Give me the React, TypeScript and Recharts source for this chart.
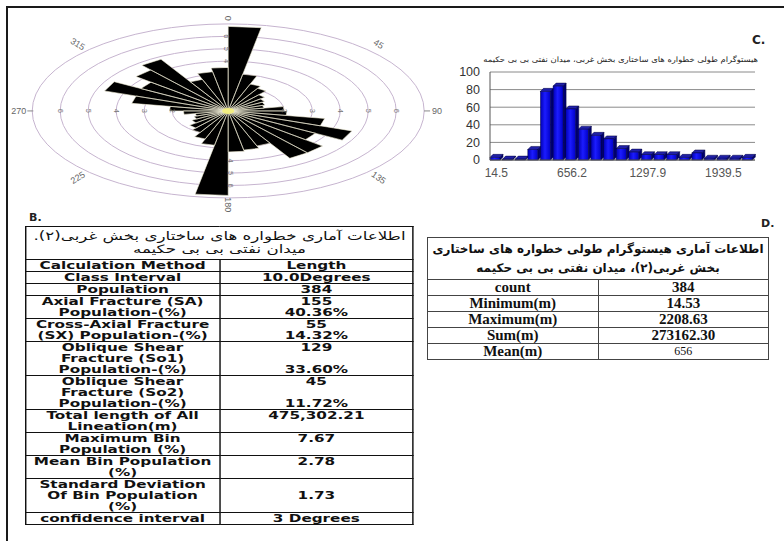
import React from 'react';
import {
  ComposedChart,
  Area,
  Scatter,
  XAxis,
  YAxis,
  BarChart,
  Bar,
  CartesianGrid,
} from 'recharts';

// rose diagram: 10 degree classes, clockwise from north (axial data)
const classStart = [
  0, 10, 20, 30, 40, 50, 60, 70, 80,
  90, 100, 110, 120, 130, 140, 150, 160, 170,
  180, 190, 200, 210, 220, 230, 240, 250, 260,
  270, 280, 290, 300, 310, 320, 330, 340, 350,
];
const classLength = [
  6.8, 3.0, 2.3, 2.1, 1.7, 1.5, 1.4, 1.3, 2.0,
  2.1, 3.5, 4.7, 3.6, 4.4, 4.4, 3.0, 3.2, 3.3,
  6.8, 2.8, 2.4, 2.0, 1.8, 1.5, 1.3, 1.2, 1.6,
  2.1, 3.5, 4.7, 3.6, 4.3, 4.8, 2.7, 3.2, 3.5,
];
const ringValues = [1, 2, 3, 4, 5, 6, 7];
const ringLabelsEW = [2, 3, 4, 5, 6];
const ringLabelsNS = [4, 5, 6];
const compassText = ['0', '45', '90', '135', '180', '225', '270', '315'];
const compassAngle = [0, 45, 90, 135, 180, 225, 270, 315];

// histogram of lineament length (m)
const lengthClass = [
  '14.5', '121.5', '228.4', '335.4', '442.3', '549.3', '656.2',
  '763.2', '870.1', '977.1', '1084.0', '1191.0', '1297.9', '1404.9',
  '1511.8', '1618.8', '1725.7', '1832.7', '1939.5', '2046.5', '2153.5',
];
const lengthCount = [3, 1, 1, 12, 78, 84, 58, 35, 28, 24, 13, 9, 6, 6, 6, 3, 8, 2, 2, 2, 3];
const countTicks = [0, 20, 40, 60, 80, 100];
const histTitle = 'هیستوگرام طولی خطواره های ساختاری بخش غربی، میدان نفتی بی بی حکیمه';

// table B
const tableBTitle = ['اطلاعات آماری خطواره های ساختاری بخش غربی(۲).', 'میدان نفتی بی بی حکیمه'];
const tableBMethod = [
  ['Calculation Method'],
  ['Class Interval'],
  ['Population'],
  ['Axial Fracture (SA)', 'Population-(%)'],
  ['Cross-Axial Fracture', '(SX) Population-(%)'],
  ['Oblique Shear', 'Fracture (So1)', 'Population-(%)'],
  ['Oblique Shear', 'Fracture (So2)', 'Population-(%)'],
  ['Total length of All', 'Lineation(m)'],
  ['Maximum Bin', 'Population (%)'],
  ['Mean Bin Population', '(%)'],
  ['Standard Deviation', 'Of Bin Population', '(%)'],
  ['confidence interval'],
];
const tableBValue = [
  ['Length'],
  ['10.0Degrees'],
  ['384'],
  ['155', '40.36%'],
  ['55', '14.32%'],
  ['129', '', '33.60%'],
  ['45', '', '11.72%'],
  ['475,302.21', ''],
  ['7.67', ''],
  ['2.78', ''],
  ['', '1.73', ''],
  ['3 Degrees'],
];

// table D
const tableDTitle = ['اطلاعات آماری هیستوگرام طولی خطواره های  ساختاری', 'بخش غربی(۲)، میدان نفتی بی بی حکیمه'];
const tableDLabel = ['count', 'Minimum(m)', 'Maximum(m)', 'Sum(m)', 'Mean(m)'];
const tableDValue = ['384', '14.53', '2208.63', '273162.30', '656'];

// ---- rose layout ----
const CX = 228;
const CY = 111;
const PX = 28;
const PY = 12.43;
const EX = 8.15;
const EY = 8.2;
const ROSE_W = 2 * EX * PX;
const ROSE_H = 2 * EY * PY;
const ROSE_LEFT = CX - EX * PX;
const ROSE_TOP = CY - EY * PY;
const CLASS_WIDTH = 10;

const rad = (d: number) => (d * Math.PI) / 180;
const polar = (deg: number, r: number) => ({ x: r * Math.sin(rad(deg)), y: r * Math.cos(rad(deg)) });

// star polygon: centre -> class start corner -> class end corner -> centre ...
const petalOutline = classStart
  .flatMap((a, i) => [{ x: 0, y: 0 }, polar(a, classLength[i]), polar(a + CLASS_WIDTH, classLength[i])])
  .concat([{ x: 0, y: 0 }]);

const compassRadius = [7.45, 7.6, 7.21, 7.6, 7.55, 7.6, 7.21, 7.6];
const compassRotate = [90, 32, 0, 35, 90, -32, 0, 32];
const compassPoints = compassAngle.map((a, i) => ({
  ...polar(a, compassRadius[i]),
  text: compassText[i],
  rot: compassRotate[i],
  side: a === 90 ? 'e' : a === 270 ? 'w' : '',
}));

const ringLabelPoints = [
  ...ringLabelsEW.flatMap((r) => [{ x: r, y: 0, text: String(r), dx: 0 }, { x: -r, y: 0, text: String(r), dx: 0 }]),
  ...ringLabelsNS.flatMap((r) => [{ x: 0, y: r, text: String(r), dx: -2 }, { x: 0, y: -r, text: String(r), dx: 2 }]),
];

const ringPoints = ringValues.map((r) => ({ x: 0, y: 0, r }));

const RingShape = (p: any) => (
  <ellipse cx={p.cx} cy={p.cy} rx={p.payload.r * PX} ry={p.payload.r * PY} fill="none" stroke="#c6b4cf" strokeWidth={1} />
);

const CompassShape = (p: any) => {
  const { cx, cy, payload } = p;
  const common = { fontSize: 9, fill: '#666', fontFamily: 'Liberation Sans' };
  if (payload.side === 'w') {
    return (
      <g>
        <text x={cx} y={cy} textAnchor="end" dominantBaseline="central" {...common}>{payload.text}</text>
        <line x1={cx + 1} x2={cx + 7} y1={cy} y2={cy} stroke="#888" />
      </g>
    );
  }
  if (payload.side === 'e') {
    return (
      <g>
        <line x1={cx - 6} x2={cx} y1={cy} y2={cy} stroke="#888" />
        <text x={cx + 2} y={cy} textAnchor="start" dominantBaseline="central" {...common}>{payload.text}</text>
      </g>
    );
  }
  return (
    <text x={cx} y={cy} textAnchor="middle" dominantBaseline="central" transform={`rotate(${payload.rot} ${cx} ${cy})`} {...common}>
      {payload.text}
    </text>
  );
};

const RingLabelShape = (p: any) => {
  const { cx, cy, payload } = p;
  const x = cx + payload.dx;
  return (
    <text x={x} y={cy} textAnchor="middle" dominantBaseline="central" transform={`rotate(90 ${x} ${cy})`} fontSize={7.5} fill="#777" fontFamily="Liberation Sans">
      {payload.text}
    </text>
  );
};

const CentreShape = (p: any) => (
  <ellipse cx={p.cx} cy={p.cy} rx={6} ry={3} fill="#f3ee7a" opacity={0.9} />
);

function RoseDiagram() {
  return (
    <div style={{ position: 'absolute', left: ROSE_LEFT, top: ROSE_TOP, width: ROSE_W, height: ROSE_H }}>
      {/* rings behind */}
      <div style={{ position: 'absolute', left: 0, top: 0 }}>
        <ComposedChart width={ROSE_W} height={ROSE_H} margin={{ top: 0, right: 0, bottom: 0, left: 0 }}>
          <XAxis type="number" dataKey="x" domain={[-EX, EX]} hide allowDataOverflow />
          <YAxis type="number" dataKey="y" domain={[-EY, EY]} hide allowDataOverflow />
          <Scatter data={ringPoints} shape={RingShape} isAnimationActive={false} />
        </ComposedChart>
      </div>
      {/* petals and labels */}
      <div style={{ position: 'absolute', left: 0, top: 0 }}>
        <ComposedChart width={ROSE_W} height={ROSE_H} data={petalOutline} margin={{ top: 0, right: 0, bottom: 0, left: 0 }}>
          <XAxis type="number" dataKey="x" domain={[-EX, EX]} hide allowDataOverflow />
          <YAxis type="number" dataKey="y" domain={[-EY, EY]} hide allowDataOverflow />
          <Area
            type="linear"
            dataKey="y"
            baseValue={0}
            fill="#000"
            fillOpacity={1}
            stroke="#f2efd6"
            strokeWidth={0.6}
            dot={false}
            activeDot={false}
            isAnimationActive={false}
          />
          <Scatter data={compassPoints} shape={CompassShape} isAnimationActive={false} />
          <Scatter data={ringLabelPoints} shape={RingLabelShape} isAnimationActive={false} />
          <Scatter data={[{ x: 0, y: 0 }]} shape={CentreShape} isAnimationActive={false} />
        </ComposedChart>
      </div>
    </div>
  );
}

const histData = lengthClass.map((c, i) => ({ cls: c, count: lengthCount[i] }));

const Bar3D = (p: any) => {
  const { x, y, width, height, index } = p;
  if (!height || height <= 0) return null;
  const d = 3;
  const w = width - d;
  const id = `hb${index}`;
  return (
    <g>
      <defs>
        <linearGradient id={id} x1="0" x2="1" y1="0" y2="0">
          <stop offset="0%" stopColor="#0000b4" />
          <stop offset="45%" stopColor="#1c1cff" />
          <stop offset="100%" stopColor="#0000c8" />
        </linearGradient>
      </defs>
      <polygon points={`${x},${y} ${x + d},${y - d} ${x + w + d},${y - d} ${x + w},${y}`} fill="#2020a8" stroke="#000040" strokeWidth={0.5} />
      <polygon points={`${x + w},${y} ${x + w + d},${y - d} ${x + w + d},${y + height - d} ${x + w},${y + height}`} fill="#00006e" stroke="#000040" strokeWidth={0.5} />
      <rect x={x} y={y} width={w} height={height} fill={`url(#${id})`} stroke="#000040" strokeWidth={0.5} />
    </g>
  );
};

function LengthHistogram() {
  return (
    <div style={{ position: 'absolute', left: 440, top: 52 }}>
      <BarChart width={330} height={140} data={histData} margin={{ top: 20, right: 15, left: 0, bottom: 2 }} barCategoryGap={0}>
        <CartesianGrid vertical={false} stroke="#8a8a8a" />
        <XAxis
          dataKey="cls"
          interval={5}
          tickLine={false}
          axisLine={{ stroke: '#555' }}
          tick={{ fill: '#555', fontSize: 12, fontFamily: 'Liberation Sans' }}
        />
        <YAxis
          domain={[0, 100]}
          ticks={countTicks}
          interval={0}
          width={50}
          tickLine={false}
          tickMargin={4}
          axisLine={{ stroke: '#555' }}
          tick={{ fill: '#333', fontSize: 12.5, fontFamily: 'Liberation Sans' }}
        />
        <Bar dataKey="count" shape={Bar3D} isAnimationActive={false} />
      </BarChart>
    </div>
  );
}

const B_SCALE = 1.45;
const B_LINE = 11;

function TableB() {
  const cell: React.CSSProperties = { border: '1px solid #111', padding: 0, textAlign: 'center', verticalAlign: 'top' };
  const line: React.CSSProperties = { fontFamily: 'DejaVu Sans', fontWeight: 'bold', fontSize: 10.5, lineHeight: `${B_LINE}px`, height: B_LINE, whiteSpace: 'nowrap' };
  return (
    <div style={{ position: 'absolute', left: 25, top: 226, transform: `scaleX(${B_SCALE})`, transformOrigin: '0 0' }}>
      <table style={{ borderCollapse: 'collapse', width: 389 / B_SCALE, tableLayout: 'fixed', color: '#111' }}>
        <tbody>
          <tr>
            <td colSpan={2} dir="rtl" style={{ ...cell, fontFamily: 'DejaVu Sans', fontSize: 11.5, lineHeight: '12.5px', padding: '3px 0 4px', whiteSpace: 'nowrap' }}>
              {tableBTitle.map((t, i) => <div key={i}>{t}</div>)}
            </td>
          </tr>
          {tableBMethod.map((lines, i) => (
            <tr key={i}>
              <td style={{ ...cell, width: 193 / B_SCALE }}>
                {lines.map((t, j) => <div key={j} style={line}>{t}</div>)}
              </td>
              <td style={cell}>
                {tableBValue[i].map((t, j) => <div key={j} style={line}>{t}</div>)}
              </td>
            </tr>
          ))}
        </tbody>
      </table>
    </div>
  );
}

function TableD() {
  const cell: React.CSSProperties = { border: '1px solid #444', padding: 0, textAlign: 'center', height: 15, lineHeight: '15px' };
  return (
    <table
      style={{
        position: 'absolute', left: 427, top: 237, width: 342, borderCollapse: 'collapse', tableLayout: 'fixed',
        fontFamily: "'Liberation Serif', 'DejaVu Sans'", fontWeight: 'bold', fontSize: 15, color: '#111',
      }}
    >
      <tbody>
        <tr>
          <td colSpan={2} dir="rtl" style={{ ...cell, height: 41, lineHeight: '19px', fontSize: 12, whiteSpace: 'nowrap', fontFamily: 'DejaVu Sans' }}>
            {tableDTitle.map((t, i) => <div key={i}>{t}</div>)}
          </td>
        </tr>
        {tableDLabel.map((l, i) => (
          <tr key={i}>
            <td style={{ ...cell, width: 168 }}>{l}</td>
            <td style={{ ...cell, ...(i === tableDLabel.length - 1 ? { fontWeight: 'normal', fontSize: 12 } : {}) }}>{tableDValue[i]}</td>
          </tr>
        ))}
      </tbody>
    </table>
  );
}

export default function App() {
  return (
    <div style={{ position: 'absolute', left: 0, top: 0, width: 784, height: 541, background: '#fff', overflow: 'hidden' }}>
      <RoseDiagram />
      <LengthHistogram />
      <div style={{ position: 'absolute', left: 480, top: 52, width: 282, textAlign: 'center', lineHeight: '10px' }}>
        <div dir="rtl" style={{ display: 'inline-block', transform: 'scaleX(1.12)', fontFamily: 'DejaVu Sans', fontSize: 7.5, color: '#222', whiteSpace: 'nowrap' }}>
          {histTitle}
        </div>
      </div>
      <TableB />
      <TableD />
      <div style={{ position: 'absolute', left: 752, top: 33, fontFamily: 'DejaVu Sans', fontWeight: 'bold', fontSize: 12, color: '#222' }}>C.</div>
      <div style={{ position: 'absolute', left: 29, top: 211, fontFamily: 'DejaVu Sans', fontWeight: 'bold', fontSize: 11, color: '#222' }}>B.</div>
      <div style={{ position: 'absolute', left: 761, top: 217, fontFamily: 'DejaVu Sans', fontWeight: 'bold', fontSize: 11, color: '#222' }}>D.</div>
      {/* figure frame */}
      <div style={{ position: 'absolute', left: 6, top: 6, width: 2, height: 535, background: '#1a1a1a' }} />
      <div style={{ position: 'absolute', left: 6, top: 6, width: 778, height: 2, background: '#1a1a1a' }} />
    </div>
  );
}
